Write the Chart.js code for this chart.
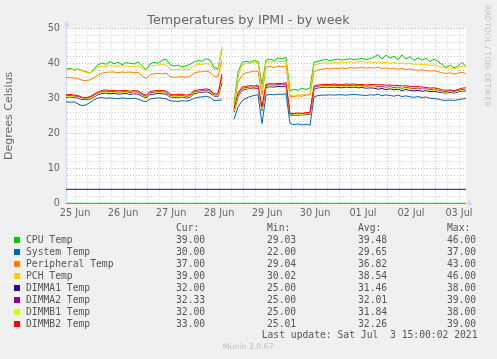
<!DOCTYPE html>
<html>
<head>
<meta charset="utf-8">
<script src="https://cdn.jsdelivr.net/npm/chart.js@4/dist/chart.umd.min.js"></script>
<style>
  html, body { margin:0; padding:0; background:#f0f0f0; }
  #wrap { position:relative; width:497px; height:359px; overflow:hidden; background:#f0f0f0; }
  #c { position:absolute; left:0; top:0; }
  #title { position:absolute; left:0; top:12px; width:497px; text-align:center; font:12.7px/15px 'DejaVu Sans'; color:#666; white-space:pre; }
  #wm { position:absolute; left:483px; top:5px; writing-mode:vertical-rl; font:7.9px/8px 'DejaVu Sans'; color:#c4c4c4; white-space:pre; }
  .lg { position:absolute; font:9.7px/12px 'DejaVu Sans Mono'; color:#555; white-space:pre; }
  .sq { position:absolute; width:6px; height:6px; }
  #munin { position:absolute; left:222.7px; top:341px; font:7.8px/12px 'DejaVu Sans'; color:#bdbdbd; white-space:pre; }
</style>
</head>
<body>
<div id="wrap">
  <canvas id="c" width="497" height="359"></canvas>
  <div id="title">Temperatures by IPMI - by week</div>
  <div id="wm">RRDTOOL / TOBI OETIKER</div>
  <div id="legend"></div>
  <div id="munin">Munin 2.0.67</div>
</div>
<script>
// ---------- DATA ----------
const dayLabels = ['25 Jun','26 Jun','27 Jun','28 Jun','29 Jun','30 Jun','01 Jul','02 Jul','03 Jul'];
const yTickLabels = [0, 10, 20, 30, 40, 50];
const seriesNames = ['CPU Temp','System Temp','Peripheral Temp','PCH Temp','DIMMA1 Temp','DIMMA2 Temp','DIMMB1 Temp','DIMMB2 Temp'];
const seriesColors = ['#00CC00','#0066B3','#FF8000','#FFCC00','#330099','#990099','#CCFF00','#FF0000'];
const curVals = [39.00, 30.00, 37.00, 39.00, 32.00, 32.33, 32.00, 33.00];
const minVals = [29.03, 22.00, 29.04, 30.02, 25.00, 25.00, 25.00, 25.01];
const avgVals = [39.48, 29.65, 36.82, 38.54, 31.46, 32.01, 31.84, 32.26];
const maxVals = [46.00, 37.00, 43.00, 46.00, 38.00, 39.00, 38.00, 39.00];
const lastUpdate = 'Last update: Sat Jul  3 15:00:02 2021';
// one sample every 2 hours, first sample = 25 Jun ~07:30
const cpuTemp = [38.3,38.6,38.1,38.4,37.9, 37.6,37.2,38.4, 39.6,
  40.1,39.7,40.5,39.9,40.3,39.6,40.2,40.0,39.8,40.4, 39.3,38.2,
  39.8,40.3,40.0,40.9,41.2, 39.6,39.2,39.5,39.0,39.3,39.7,
  40.4,40.8,40.6,41.3,40.9, 38.8,38.5, 44.0, null,null,
  28.5,37.5,40.2, 40.6,40.3,40.8,40.5, 34.0,
  40.9,41.2,40.8,41.5,41.3,41.7, 32.2,32.6,32.3,32.9,32.5,33.0, 40.3,
  40.6,40.9,41.1,40.8,41.0,41.2,40.9,41.1,41.3,41.0,41.2,41.4,41.1,41.3,
  41.8,42.5,41.2,42.3,41.5,42.0,41.0,42.4,41.3,41.9,40.8,41.6,40.9,41.4,40.5,41.2,40.6,
  39.6,38.8,39.5,38.7,39.2,40.3,39.0];
const systemTemp = [29.0,28.9,29.0,28.4,27.9, 28.1,28.8,29.6, 30.1,
  30.2,30.0,30.1,30.0,29.9,30.1,30.0,29.9,30.0,29.8, 29.3,29.0,
  29.8,30.0,30.1,30.0,29.9, 29.3,29.2,29.1,29.3,29.2,29.4,
  30.0,30.3,30.4,30.6,30.3, 29.4,29.4, 29.6, null,null,
  24.0,27.5,29.3, 30.0,30.5,30.8,31.0, 22.8,
  30.9,31.1,31.0,31.2,31.1,31.3, 22.8,22.5,22.7,22.4,22.6,22.3, 30.4,
  30.8,30.9,30.9,31.0,30.9,31.0,31.0,30.9,31.0,31.1,31.0,30.9,30.8,31.0,
  30.9,31.2,30.7,31.0,30.8,30.6,30.9,30.5,30.7,30.4,30.3,30.5,30.2,30.4,30.0,29.9,29.8,
  29.5,29.4,29.5,29.4,29.6,29.8,30.0];
const peripheralTemp = [35.9,35.9,35.8,35.6,35.2, 35.0,35.3,35.9, 36.6,
  37.2,37.4,37.5,37.5,37.3,37.5,37.4,37.5,37.3,37.4, 36.4,35.6,
  36.8,37.0,37.1,37.0,37.2, 36.2,36.0,36.1,36.2,36.0,36.3,
  37.2,37.5,37.6,37.8,37.4, 36.3,36.2, 41.0, null,null,
  27.5,34.5,36.6, 37.3,37.5,37.8,37.6, 31.0,
  38.9,39.1,38.8,39.2,39.0,39.3, 30.4,30.5,30.7,30.6,30.9,31.0, 37.6,
  38.1,38.3,38.5,38.4,38.6,38.5,38.7,38.5,38.8,38.6,38.7,38.9,38.6,38.8,
  38.6,38.9,38.5,38.7,38.4,38.6,38.3,38.5,38.2,38.4,38.1,38.0,38.2,37.9,37.8,37.9,37.6,
  37.3,37.1,37.3,36.9,37.2,37.4,37.0];
const pchTemp = [38.1,38.3,38.0,38.2,37.8, 37.4,37.2,38.1, 39.0,
  39.2,39.1,39.3,39.2,39.1,39.3,39.2,39.0,39.1,39.2, 38.6,38.0,
  39.3,39.4,39.5,39.6,39.5, 38.3,38.2,38.2,38.4,38.2,38.3,
  39.3,39.6,39.7,40.0,39.6, 38.3,38.2, 44.7, null,null,
  27.0,36.0,39.6, 39.9,40.0,40.2,40.1, 32.0,
  40.3,40.5,40.4,40.6,40.5,40.7, 30.8,30.9,31.0,31.0,31.2,31.3, 39.4,
  39.8,40.0,40.1,40.0,40.2,40.1,40.3,40.2,40.4,40.3,40.4,40.5,40.3,40.4,
  40.2,40.4,40.1,40.3,40.0,40.2,39.9,40.1,39.8,40.0,39.7,39.8,39.6,39.7,39.4,39.5,39.2,
  38.8,38.6,38.7,38.5,38.7,39.2,39.0];
const dimma1Temp = [30.3,30.4,30.2,30.1,29.7, 29.6,29.8,30.4, 31.0,
  31.4,31.5,31.3,31.4,31.2,31.3,31.4,31.1,31.3,31.2, 30.6,30.1,
  31.1,31.2,31.4,31.3,31.2, 30.4,30.2,30.3,30.4,30.1,30.3,
  31.3,31.6,31.7,31.9,31.5, 30.6,30.5, 34.5, null,null,
  26.0,30.5,32.3, 32.6,32.8,32.7,32.9, 26.5,
  33.1,33.3,33.2,33.4,33.3,33.5, 25.1,25.2,25.2,25.3,25.3,25.4, 32.6,
  33.0,33.1,33.2,33.1,33.2,33.1,33.0,33.2,33.1,33.2,33.0,33.1,32.9,33.0,
  32.9,32.6,32.8,32.5,32.7,32.4,32.6,32.2,32.5,32.3,32.1,32.3,32.0,32.2,31.9,32.0,31.8,
  31.6,31.5,31.7,31.5,31.8,32.1,32.0];
const dimma2Temp = [30.7,30.8,30.6,30.5,30.0, 29.9,30.2,30.8, 31.4,
  31.9,32.0,31.8,31.9,31.7,31.8,31.9,31.6,31.8,31.7, 31.0,30.5,
  31.6,31.7,31.9,31.8,31.7, 30.8,30.6,30.7,30.8,30.5,30.7,
  31.8,32.0,32.1,32.3,32.0, 30.9,30.9, 36.0, null,null,
  26.5,31.0,32.8, 33.0,33.2,33.1,33.3, 27.0,
  33.6,33.8,33.7,33.9,33.8,34.0, 25.3,25.4,25.5,25.5,25.6,25.7, 33.1,
  33.4,33.5,33.6,33.5,33.7,33.6,33.5,33.7,33.6,33.7,33.5,33.6,33.4,33.5,
  33.5,33.2,33.4,33.1,33.3,33.0,33.2,32.8,33.1,32.9,32.7,32.9,32.6,32.7,32.4,32.6,32.3,
  32.0,31.9,32.1,31.9,32.2,32.5,32.3];
const dimmb1Temp = [30.5,30.6,30.4,30.3,29.9, 29.8,30.0,30.6, 31.2,
  31.7,31.8,31.6,31.7,31.5,31.6,31.7,31.4,31.6,31.5, 30.8,30.3,
  31.4,31.5,31.7,31.6,31.5, 30.6,30.4,30.5,30.6,30.3,30.5,
  31.6,31.8,31.9,32.1,31.8, 30.7,30.7, 35.5, null,null,
  26.3,30.8,32.6, 32.8,33.0,32.9,33.1, 26.8,
  33.4,33.6,33.5,33.7,33.6,33.8, 25.2,25.3,25.4,25.4,25.5,25.6, 32.9,
  33.2,33.3,33.4,33.3,33.5,33.4,33.3,33.5,33.4,33.5,33.3,33.4,33.2,33.3,
  33.3,33.0,33.2,32.9,33.1,32.8,33.0,32.6,32.9,32.7,32.5,32.7,32.4,32.5,32.2,32.4,32.1,
  31.8,31.7,31.9,31.7,32.0,32.3,32.0];
const dimmb2Temp = [31.0,31.1,30.9,30.8,30.3, 30.2,30.5,31.2, 31.8,
  32.3,32.4,32.2,32.3,32.1,32.2,32.3,32.0,32.2,32.1, 31.4,30.8,
  32.0,32.1,32.3,32.2,32.1, 31.2,31.0,31.1,31.2,30.9,31.1,
  32.2,32.4,32.5,32.7,32.4, 31.3,31.3, 37.0, null,null,
  27.0,31.5,33.2, 33.4,33.6,33.5,33.7, 27.5,
  34.0,34.2,34.1,34.3,34.2,34.5, 25.6,25.7,25.8,25.7,25.9,26.0, 33.5,
  33.8,33.9,34.0,33.9,34.1,34.0,33.9,34.1,34.0,34.1,33.9,34.0,33.8,33.9,
  34.0,33.8,33.9,33.7,33.8,33.6,33.7,33.5,33.6,33.4,33.3,33.4,33.2,33.1,32.9,33.0,32.8,
  32.4,32.3,32.4,32.2,32.5,32.9,33.0];
const flatLineValues = [0, 4];
const flatLineColors = ['#00CC00', '#330099'];

// ---------- TIME AXIS ----------
const STEP_HOURS = 2;
const SPAN_HOURS = 200;
const FIRST_MIDNIGHT = 16.5; // hours from first sample to 26 Jun 00:00
const seriesData = [cpuTemp, systemTemp, peripheralTemp, pchTemp, dimma1Temp, dimma2Temp, dimmb1Temp, dimmb2Temp];

const xTicks = [];
for (let h = FIRST_MIDNIGHT - 12; h <= SPAN_HOURS; h += 6) xTicks.push(h);
function hourOfDay(v) { return (((v - FIRST_MIDNIGHT) % 24) + 24) % 24; }
const yTicks = [];
for (let v = 0; v <= 50; v += 2) yTicks.push(v);

const MAJOR = 'rgba(222,80,80,0.5)';
const MINOR = 'rgba(143,143,143,0.42)';
const AXIS = '#CFD6F8';

const datasets = [];
flatLineValues.forEach((v, i) => {
  datasets.push({ data: [{x:0, y:v}, {x:SPAN_HOURS, y:v}], borderColor: flatLineColors[i], borderWidth: 1, pointRadius: 0, order: 20 + i, clip: 3 });
});
seriesData.forEach((arr, i) => {
  datasets.push({
    label: seriesNames[i],
    data: arr.map((v, k) => ({ x: k * STEP_HOURS, y: v })),
    borderColor: seriesColors[i], borderWidth: 1, pointRadius: 0, spanGaps: false,
    order: 8 - i
  });
});

const framePlugin = {
  id: 'frame',
  beforeDraw(chart) {
    const { ctx, chartArea: a } = chart;
    ctx.save();
    ctx.fillStyle = '#ffffff';
    ctx.fillRect(a.left, a.top, a.right - a.left, a.bottom - a.top);
    ctx.restore();
  },
  afterDraw(chart) {
    const { ctx, chartArea: a } = chart;
    const x0 = Math.round(a.left) + 0.5, yb = Math.round(a.bottom) + 0.5;
    ctx.save();
    ctx.strokeStyle = AXIS; ctx.fillStyle = AXIS; ctx.lineWidth = 1;
    ctx.beginPath(); ctx.moveTo(x0, a.top); ctx.lineTo(x0, a.top - 3); ctx.stroke();
    ctx.beginPath(); ctx.moveTo(x0 - 3, a.top - 2); ctx.lineTo(x0 + 3, a.top - 2); ctx.lineTo(x0, a.top - 7); ctx.closePath(); ctx.fill();
    ctx.beginPath(); ctx.moveTo(a.right, yb); ctx.lineTo(a.right + 3, yb); ctx.stroke();
    ctx.beginPath(); ctx.moveTo(a.right + 2, yb - 3); ctx.lineTo(a.right + 2, yb + 3); ctx.lineTo(a.right + 7, yb); ctx.closePath(); ctx.fill();
    ctx.restore();
  }
};

Chart.defaults.font.family = "'DejaVu Sans'";
new Chart(document.getElementById('c'), {
  type: 'line',
  data: { datasets },
  plugins: [framePlugin],
  options: {
    responsive: false, animation: false, devicePixelRatio: 1,
    layout: { padding: { top: 28.3, right: 31, bottom: 359 - 203.3 - 20, left: 0 } },
    plugins: { legend: { display: false }, title: { display: false }, tooltip: { enabled: false } },
    elements: { line: { tension: 0, borderWidth: 1 }, point: { radius: 0 } },
    scales: {
      x: {
        type: 'linear', min: 0, max: SPAN_HOURS,
        afterBuildTicks: s => { s.ticks = xTicks.map(v => ({ value: v })); },
        afterFit: s => { s.height = 20; },
        ticks: {
          autoSkip: false, maxRotation: 0, minRotation: 0, padding: 4, color: '#666',
          font: { size: 9.7 },
          callback: v => Math.abs(hourOfDay(v) - 12) < 0.01 ? dayLabels[Math.floor((v + 7.5) / 24)] : ''
        },
        grid: { drawTicks: false, lineWidth: 1,
          color: c => (c.tick && Math.abs(hourOfDay(c.tick.value)) < 0.01) ? MAJOR : MINOR },
        border: { display: true, color: AXIS, dash: [1, 2] }
      },
      y: {
        min: 0, max: 50,
        afterBuildTicks: s => { s.ticks = yTicks.map(v => ({ value: v })); },
        afterFit: s => { s.width = 66; },
        ticks: { autoSkip: false, padding: 6, color: '#666', font: { size: 9.7 },
          callback: v => yTickLabels.includes(v) ? String(v) : '' },
        grid: { drawTicks: false, lineWidth: 1,
          color: c => (c.tick && yTickLabels.includes(c.tick.value)) ? MAJOR : MINOR },
        border: { display: true, color: AXIS, dash: [1, 2] },
        title: { display: true, text: 'Degrees Celsius', color: '#666', font: { size: 11 }, padding: { top: 3, bottom: 0 } }
      }
    }
  }
});

// ---------- LEGEND ----------
const L = document.getElementById('legend');
const COLS = [176, 267, 358, 447];
function addText(x, baseline, text) {
  const d = document.createElement('div');
  d.className = 'lg';
  d.style.left = x + 'px';
  d.style.top = (baseline - 9.35) + 'px';
  d.textContent = text;
  L.appendChild(d);
}
['Cur:', 'Min:', 'Avg:', 'Max:'].forEach((h, i) => addText(COLS[i], 231, h));
seriesNames.forEach((name, i) => {
  const b = 243 + 12 * i;
  const sq = document.createElement('div');
  sq.className = 'sq';
  sq.style.left = '14px';
  sq.style.top = (b - 6.3) + 'px';
  sq.style.background = seriesColors[i];
  L.appendChild(sq);
  addText(26, b, name);
  [curVals, minVals, avgVals, maxVals].forEach((arr, c) => addText(COLS[c], b, arr[i].toFixed(2)));
});
addText(261.7, 338, lastUpdate);
</script>
</body>
</html>
